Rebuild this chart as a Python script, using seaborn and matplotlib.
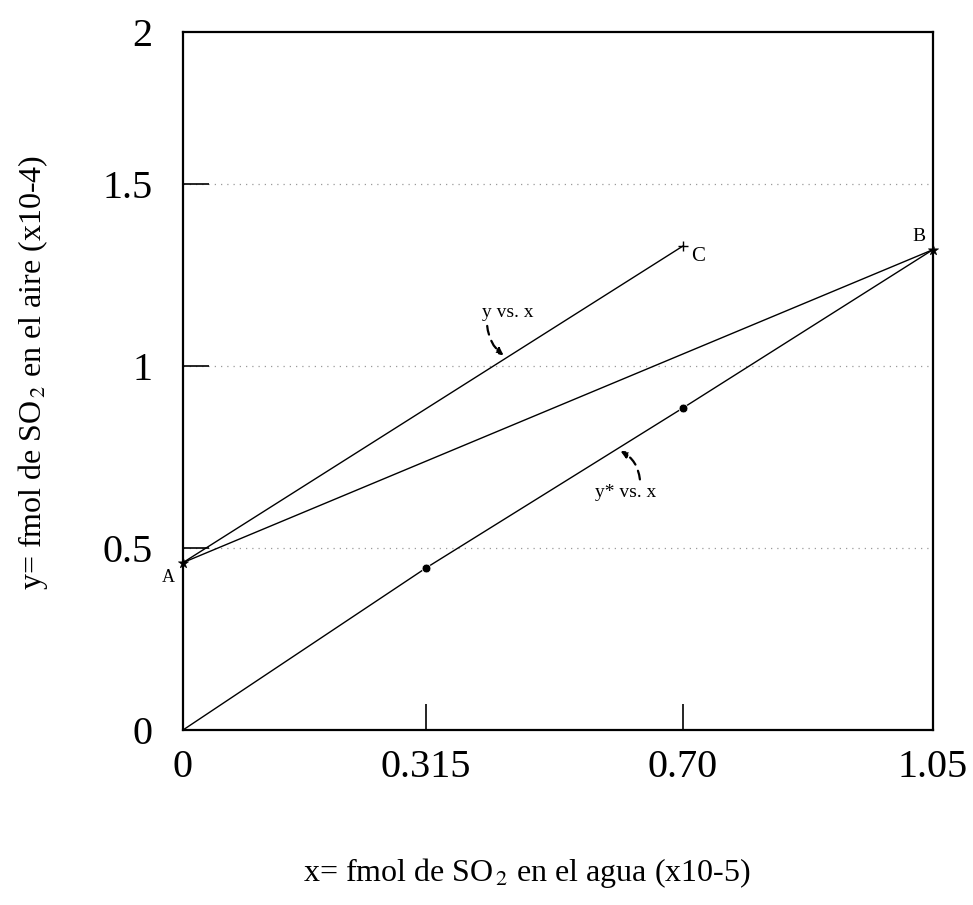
import matplotlib
matplotlib.use("Agg")
import matplotlib.pyplot as plt
import seaborn as sns
import pandas as pd

# values (x in 1e-5, y in 1e-4)
line_ac_x = [0.0, 0.70]
line_ac_y = [0.46, 1.33]
line_ab_x = [0.0, 1.05]
line_ab_y = [0.46, 1.32]
eq_x = [0.0, 0.34, 0.70, 1.05]
eq_y = [0.0, 0.445, 0.885, 1.32]
dots_x = [0.34, 0.70]
dots_y = [0.445, 0.885]
star_x = [0.0, 1.05]
star_y = [0.46, 1.32]
plus_x = [0.70]
plus_y = [1.33]

xtick_pos = [0.0, 0.34, 0.70, 1.05]
xtick_lab = ["0", "0.315", "0.70", "1.05"]
ytick_pos = [0.0, 0.5, 1.0, 1.5, 1.918]
ytick_lab = ["0", "0.5", "1", "1.5", "2"]

sns.set_theme(style="white")
plt.rcParams['font.family'] = ['Liberation Serif', 'DejaVu Serif']
plt.rcParams['mathtext.fontset'] = 'stix'
plt.rcParams['text.color'] = 'black'

fig = plt.figure(figsize=(9.73, 9.05), dpi=100)
ax = fig.add_axes([183/973, 1-730/905, 750/973, 698/905])

lines = pd.DataFrame({
    "x": line_ac_x + line_ab_x + eq_x,
    "y": line_ac_y + line_ab_y + eq_y,
    "serie": ["ac"]*2 + ["ab"]*2 + ["eq"]*4,
})
sns.lineplot(data=lines, x="x", y="y", units="serie", estimator=None,
             color="black", lw=1.0, sort=False, ax=ax)
sns.scatterplot(x=dots_x, y=dots_y, color="black", s=40, ax=ax, zorder=5)
sns.scatterplot(x=star_x, y=star_y, marker="*", color="black", s=60, ax=ax,
                zorder=5, edgecolor="black", linewidth=0.4, clip_on=False)
sns.scatterplot(x=plus_x, y=plus_y, marker="+", color="black", s=55, ax=ax,
                zorder=5, linewidth=1)

ax.set_xlim(0, 1.05)
ax.set_ylim(0, 1.918)
ax.set_xticks(xtick_pos)
ax.set_xticklabels(xtick_lab)
ax.set_yticks(ytick_pos)
ax.set_yticklabels(ytick_lab)
ax.tick_params(axis="both", direction="in", length=19, width=1.2,
               labelsize=29, colors="black", bottom=True, left=True)
ax.tick_params(axis="y", pad=22)
ax.tick_params(axis="x", pad=14)
for s in ax.spines.values():
    s.set_color("black")
    s.set_linewidth(1.6)
for v in [0.5, 1.0, 1.5]:
    ax.axhline(v, color="#9a9a9a", lw=0.9, ls=(0, (1, 4)), zorder=0)
ax.set_xlabel("")
ax.set_ylabel("")

# point labels
ax.text(-0.012, 0.42, "A", fontsize=13, ha="right", va="center")
ax.text(1.04, 1.355, "B", fontsize=14, ha="right", va="center")
ax.text(0.712, 1.30, "C", fontsize=15, ha="left", va="center")

# curve labels with dashed arrows
ax.text(0.455, 1.148, "y vs. x", fontsize=14, ha="center", va="center")
ax.annotate("", xy=(0.452, 1.025), xytext=(0.4256, 1.118),
            arrowprops=dict(arrowstyle="-|>", color="black", lw=1.6,
                            ls=(0, (4, 3)), connectionstyle="arc3,rad=0.25",
                            mutation_scale=10))
ax.text(0.619, 0.652, "y* vs. x", fontsize=14, ha="center", va="center")
ax.annotate("", xy=(0.609, 0.77), xytext=(0.640, 0.681),
            arrowprops=dict(arrowstyle="-|>", color="black", lw=1.6,
                            ls=(0, (4, 3)), connectionstyle="arc3,rad=0.3",
                            mutation_scale=10))

fig.text(527/973, 1-873/905, r"x= fmol de SO$_{\,2}$ en el agua (x10-5)",
         fontsize=23, ha="center", va="center")
fig.text(33/973, 1-372/905, r"y= fmol de SO$_{\,2}$ en el aire (x10-4)",
         fontsize=23, ha="center", va="center", rotation=90)

fig.savefig("out.png", dpi=100, facecolor="white")
